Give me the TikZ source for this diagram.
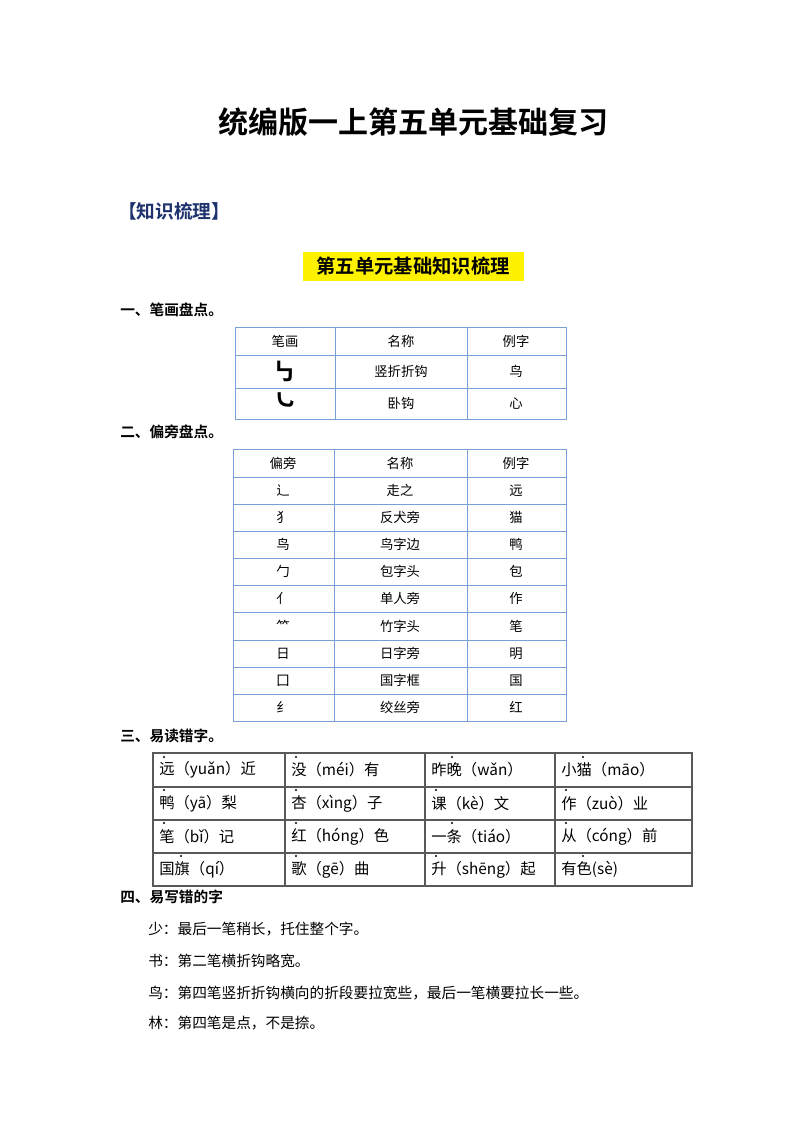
\documentclass[tikz,border=0pt]{standalone}
\usepackage{fontspec}
\setmainfont{Liberation Sans}
\newfontfamily\cjk{Noto Sans CJK SC}
\newfontfamily\cjkb{Noto Sans CJK SC Bold}
\begin{document}
\begin{tikzpicture}[x=0.75pt,y=-0.75pt,
 cell/.style={font=\cjk\fontsize{10}{12}\selectfont,inner sep=0pt},
 stroke/.style={font=\cjkb\fontsize{18}{20}\selectfont,inner sep=0pt},
 pcell/.style={font=\cjk\fontsize{11.5}{13}\selectfont,inner sep=0pt,anchor=west},
 head/.style={font=\cjkb\fontsize{11}{13}\selectfont,anchor=west,inner sep=0pt},
 body/.style={font=\cjk\fontsize{11}{13}\selectfont,anchor=west,inner sep=0pt}]
\useasboundingbox (0,0) rectangle (800,1132);
\definecolor{tblue}{RGB}{120,160,215}
\definecolor{navy}{RGB}{30,50,110}
\node[font=\cjkb\fontsize{22.5}{26}\selectfont] (title) at (413,122) {统编版一上第五单元基础复习};
\node[font=\cjkb\fontsize{14}{17}\selectfont,text=navy,anchor=west,inner sep=0pt] (kn) at (118,211) {【知识梳理】};
\fill[yellow] (303,252) rectangle (524,281);
\node[font=\cjkb\fontsize{14.5}{17}\selectfont] (sub) at (413,266) {第五单元基础知识梳理};
\node[head] (h1) at (120,310) {一、笔画盘点。};
% table 1
\draw[tblue,line width=0.7pt] (235,327) rectangle (566,419);
\foreach \y in {355,388} \draw[tblue,line width=0.7pt] (235,\y) -- (566,\y);
\foreach \x in {335,467} \draw[tblue,line width=0.7pt] (\x,327) -- (\x,419);
\node[cell] (ta1) at (285,341) {笔画};
\node[cell] (tb1) at (401,341) {名称};
\node[cell] (tc1) at (516,341) {例字};
\node[stroke] (ta2) at (284,371) {㇉};
\node[cell] (tb2) at (401,371.5) {竖折折钩};
\node[cell] (tc2) at (516,371.5) {鸟};
\node[stroke] (ta3) at (284,401) {㇃};
\node[cell] (tb3) at (401,403.5) {卧钩};
\node[cell] (tc3) at (516,403.5) {心};
\node[head] (h2) at (120,432) {二、偏旁盘点。};
\draw[tblue,line width=0.7pt] (233,449) rectangle (566,721);
\foreach \y in {477,504,531,558,585,612,640,667,694} \draw[tblue,line width=0.7pt] (233,\y) -- (566,\y);
\foreach \x in {334,467} \draw[tblue,line width=0.7pt] (\x,449) -- (\x,721);
\foreach \a/\b/\c/\yy [count=\i] in {偏旁/名称/例字/463,辶/走之/远/490.5,犭/反犬旁/猫/517.5,鸟/鸟字边/鸭/544.5,勹/包字头/包/571.5,亻/单人旁/作/598.5,⺮/竹字头/笔/626,日/日字旁/明/653.5,囗/国字框/国/680.5,纟/绞丝旁/红/707.5}{
 \node[cell] (ra\i) at (283,\yy) {\a};
 \node[cell] (rb\i) at (400,\yy) {\b};
 \node[cell] (rc\i) at (516,\yy) {\c};}
\node[head] (h3) at (120,736) {三、易读错字。};
\draw[gray!70!black,line width=0.8pt] (153,753) rectangle (692,886);
\foreach \y in {787,820,853} \draw[gray!70!black,line width=0.8pt] (153,\y) -- (692,\y);
\foreach \x in {285,425,555} \draw[gray!70!black,line width=0.8pt] (\x,753) -- (\x,886);
\foreach \t/\x/\y [count=\i] in {
远（yuǎn）近/159/770,没（méi）有/291/770,昨晚（wǎn）/431/770,小猫（māo）/561/770,
鸭（yā）梨/159/803.5,杏（xìng）子/291/803.5,课（kè）文/431/803.5,作（zuò）业/561/803.5,
笔（bǐ）记/159/836.5,红（hóng）色/291/836.5,一条（tiáo）/431/836.5,从（cóng）前/561/836.5,
国旗（qí）/159/869.5,歌（gē）曲/291/869.5,升（shēng）起/431/869.5,有色(sè)/561/869.5}
 \node[pcell] (p\i) at (\x,\y) {\t};
\foreach \x/\y in {164/757,296/757,452/757,583/757,164/790,296/790,436/790,566/790,164/823,296/823,452/823,566/823,181/856,296/856,436/856,583/856}
 \fill (\x,\y) circle (1.2);
\node[head] (h4) at (120,897) {四、易写错的字};
\node[body] (l1) at (148,929) {少：最后一笔稍长，托住整个字。};
\node[body] (l2) at (148,961) {书：第二笔横折钩略宽。};
\node[body] (l3) at (148,993) {鸟：第四笔竖折折钩横向的折段要拉宽些，最后一笔横要拉长一些。};
\node[body] (l4) at (148,1023) {林：第四笔是点，不是捺。};
\end{tikzpicture}
\end{document}
